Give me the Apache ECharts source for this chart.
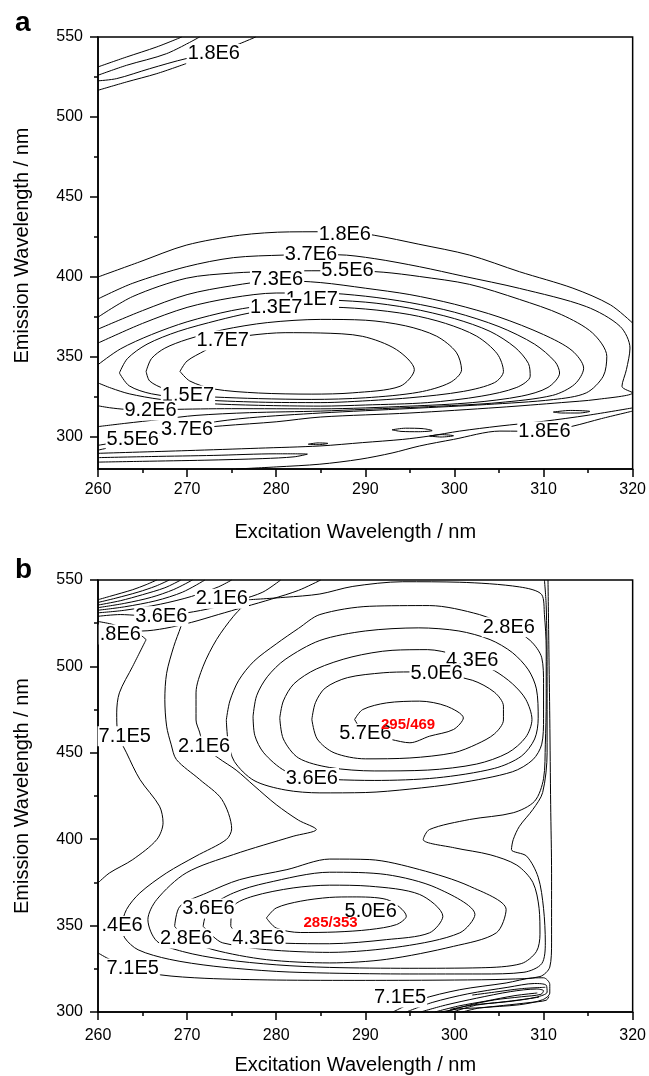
<!DOCTYPE html>
<html>
<head>
<meta charset="utf-8">
<title>EEM contour maps</title>
<script src="https://cdn.jsdelivr.net/npm/echarts@6.0.0/dist/echarts.min.js"></script>
<style>
  html, body { margin: 0; padding: 0; background: #fff; }
  #chart { width: 649px; height: 1076px; }
</style>
</head>
<body>
<div id="chart"></div>
<script>
// axis ticks
const xTicks = [260, 270, 280, 290, 300, 310, 320]
const aYTicks = [300, 350, 400, 450, 500, 550]
const aYMinorTicks = [325, 375, 425, 475, 525]

// ---- panel a: contour lines [excitation nm, emission nm] ----
const aLine18Top = [[260,400],[264.7,409.5],[269.9,419.9],[275.9,426.1],[281.5,428.2],[287.7,428.3],[291,426.1],[296,420.5],[301.7,413.7],[307.3,403.3],[313.3,393],[317.5,382.6],[320,371.2]]
const aLine18Bottom = [[275.5,280],[280,281.3],[284.9,283],[289.4,286.1],[293,290],[296.1,294.4],[299.9,298.5],[305.1,303.7],[310.1,303.5],[313.3,306.8],[316.5,311.5],[320,316.2]]
const aLine18Mid = [[260,289.8],[270,291.5],[278,293],[284.9,294.4],[289.7,296.5],[294.2,298.5],[297.2,300.6],[300.6,303.7],[305,306.8],[310,309.8],[315,313.6],[320,318.2]]
const aPocket = [[260,287.1],[266,287.8],[273,288.5],[280,289.5],[283.5,289.3],[282,287.6],[278.5,286.5],[272,285.5],[265,284.8],[260,284.3]]
const aLine37 = [[260,386.3],[263.9,396.1],[269.9,406.4],[275.2,412.1],[280.8,413.7],[284,413.9],[286.9,413.9],[291,411.5],[296.1,406.4],[301,400.5],[307.3,392.9],[314.8,381.5],[318.6,369.1],[319.7,355.6],[319.3,342.1],[318.8,331.7],[320,327.6],[316,323.5],[312,321.5],[305,318.5],[295,315],[285,312.5],[280,309.5],[274,307],[270,304.8],[267,301],[263,295.5],[260,291.8]]
const aLine55 = [[260,374.9],[263.9,387.8],[269.9,399.2],[275.2,402.5],[280,403.5],[284,403.9],[288,403.9],[292,403],[296.1,400.3],[301.7,395.4],[307.3,386],[312,376.5],[315.5,365],[317.1,350.4],[316.7,338],[314.8,327.6],[311.1,323.4],[303.6,320.3],[295,317.8],[285,315],[277,312],[272,308.5],[268,303.5],[263.9,298.5],[260,294.8]]
const aLine73 = [[260,367.4],[265,379],[270,389],[275,394.5],[280.1,397.8],[285,396.5],[290,393],[295,389],[300,383],[305,375],[310,364],[313.2,354],[314.5,343],[313.5,333],[311,326],[305,321.5],[298,319.2],[290,317.3],[285,316.2],[277,315.2],[271,313.5],[267,311],[263,308.5],[260,306.5]]
const aLine92 = [[260,358.7],[265,371],[270,381],[275,387],[280,390],[285,390],[290,388],[295,384],[300,378],[305,369],[309,358],[311.3,347],[311.8,340],[310.5,331],[307.5,325.5],[302,321.5],[295,319.3],[285,317.6],[275,317.7],[268,317.2],[265.9,316.6],[263,317.3],[261.3,318.3],[260,319.5]]
const aLine11 = [[260,345.2],[262.5,355],[266,364],[270,372],[275,379],[280,383.3],[284,385.8],[290,384.3],[295,380.5],[300,374],[304,366],[306.8,356],[308.3,346],[308.5,338],[307,331],[303,325.5],[297,321.5],[290,320],[285,319.3],[278,319.8],[272,321],[267,323.5],[263.5,327],[261.5,330.5],[260,333.8]]
const aLine13 = [[262.4,340],[263.3,349],[265.5,358],[269,366],[273.5,373],[277,377.5],[280,380],[285,381.3],[290,380],[295,376.5],[299,371],[302.5,363],[304.8,352],[305.5,341],[304.5,334],[301,328.5],[295,324.5],[288,322],[285,321.5],[278,321.8],[271,323.5],[266,327],[263.5,332],[262.4,340]]
const aLine15 = [[265.4,341],[266,349],[267.5,355.5],[270,361],[274,367],[279,371.5],[285,373.5],[290,373],[294.5,369.5],[298,363],[300.2,353],[300.8,342],[299.5,334],[296,328],[290,324.5],[284,323.5],[278,324],[273,325],[270.1,326],[267.5,330],[265.8,335],[265.4,341]]
const aLine17 = [[269.2,341],[270,347.5],[272,354],[274,360.3],[277,363.5],[281,365.2],[285,365],[289.7,362.9],[293.5,354.6],[295.5,342.1],[293.9,331.7],[288.6,327.6],[284,326.8],[278,327.5],[273,330],[270.3,335],[269.2,341]]
const aIsland1 = [[293,304.5],[294.5,305.5],[296.5,305.2],[297.5,304],[296,303.3],[294,303.5],[293,304.5]]
const aIsland2 = [[297.2,300.6],[298.5,301.5],[299.9,300.8],[298.5,300],[297.2,300.6]]
const aIsland3 = [[311.1,315.6],[313,316.6],[315.2,316],[314,315],[312,315],[311.1,315.6]]
const aIsland4 = [[283.6,295.5],[284.7,296.3],[285.8,296],[284.7,295.2],[283.6,295.5]]
const aScatter1 = [[260,531.3],[263.2,537.5],[266.6,543.8],[269.4,550]]
const aScatter2 = [[260,526.1],[263.2,532.3],[267.7,539.6],[271.4,550]]
const aScatter3 = [[260,522.6],[262.1,524],[265.8,530.2],[269.9,536.5],[273,539.4],[275.9,545.8],[277.7,550]]
const aScatter4 = [[260,516.7],[263.2,521.9],[266.6,527.1],[269.9,533.4]]

const aLabelText = ['1.8E6','1.8E6','3.7E6','5.5E6','7.3E6','1.1E7','1.3E7','1.7E7','1.5E7','9.2E6','5.5E6','3.7E6','1.8E6']
const aLabelX = [273.0, 287.7, 283.9, 288.0, 280.1, 284.0, 280.0, 274.0, 270.1, 265.9, 263.9, 270.0, 310.1]
const aLabelY = [539.4, 426.4, 413.9, 403.9, 398.3, 385.8, 380.9, 360.3, 326.0, 316.6, 298.5, 304.8, 303.5]

// ---- panel b: contour lines ----
const b71Up = [[265.4,515.5],[263.9,500.1],[262.4,484.7],[262.1,473.1],[262.2,461.6],[263.2,450],[264.7,434.6],[266.9,419.1],[267.3,409.5],[266.6,399.8],[263.9,388.2],[261.3,380.5],[260,374.7]]
const b71Low = [[260,334.2],[261.3,330.5],[263.9,325.2],[267,321.5],[272,319.5],[280,318.5],[290,318.3],[300,318.5],[306,319],[309.6,320.5],[310.7,326],[310.9,340],[310.9,380],[310.8,420],[310.7,470],[310.6,510],[310.5,550]]
const b14 = [[269.9,532.9],[269.3,523],[268.5,511.5],[267.7,496],[267.5,480.8],[267.7,465.4],[268.2,455],[268.8,446.1],[271.4,434.6],[273.9,423],[275,406],[274.4,399.8],[271,390.2],[267.7,380.5],[264.7,368.9],[263.2,359.3],[262.7,349.8],[263,342.9],[264.5,336],[268,330.5],[273,326.5],[280,323.5],[286,322.5],[295,322],[303,322],[307.8,323],[309.8,328],[310.2,340],[310,360],[309.4,378],[308.1,390.2],[306.4,394],[306.6,399.8],[307.3,407.5],[308.8,417.2],[309.9,427],[310.4,450],[310.4,500],[310.3,535],[310.1,550]]
const b21 = [[277,538.6],[275.2,529],[273.3,515.5],[271.8,500.1],[271,484.7],[271,469],[271.4,462],[271.9,453.8],[273.5,447],[275.5,440],[277.5,431],[280,420],[282.5,411],[284.5,405.6],[281.9,401.7],[275.2,391.1],[269.9,380.5],[266.6,365.1],[265.6,353.5],[266.6,341],[269.5,335],[274,330.5],[280,327.3],[286,325.8],[295,325.3],[303,325.6],[307.5,328],[309.2,335],[309.6,345],[309.5,360],[308.8,375],[307,385],[304,391],[300,395],[296.5,399.8],[297.2,405.6],[301.7,411.4],[306.6,415.3],[309,422],[310,435],[310.2,455],[310.3,480],[310.3,510],[310.1,530],[309.8,541.5],[307.3,546],[300.6,548.7],[294.2,549],[288.6,546.3],[284.9,541.9],[281,540],[277,538.6]]
const b28Up = [[274.4,469],[274.8,480],[275.8,492],[277.5,503],[280,513],[282.5,522],[284.9,530],[290.5,534.8],[297.2,535.2],[302.8,530],[306.1,522.7],[308.5,515],[309.8,505],[310,490],[310,470],[309.8,455],[308.8,446],[306.5,439],[300.5,432.5],[295,429],[290,427],[284.9,426.8],[281,428.5],[277.5,434],[275.3,445],[274.6,457],[274.4,469]]
const b36Up = [[277.4,471],[277.8,483],[279,494],[281,504],[284.9,515],[290,520.5],[296,522.3],[300.5,520.5],[304,515.5],[306.5,508],[308.3,498],[309.2,487],[309.4,470],[309,458],[307.5,448],[304.5,441],[298,435.5],[291,434],[286.5,434.5],[284,435.4],[281,439.5],[278.6,450],[277.6,460],[277.4,471]]
const b43Up = [[280.4,470.2],[280.8,480],[282,490],[284.5,498.5],[288.5,505.5],[293,509.3],[297,509.7],[300,507],[302,503.5],[304.5,497.5],[306.5,490],[308,481],[308.7,469.3],[308,459],[306,450],[302.5,443.5],[297,440],[291,439.5],[286,441.5],[282.5,447],[280.8,458],[280.4,470.2]]
const b50Up = [[284,469.3],[284.4,479],[285.5,487.5],[288,493.5],[292,496.3],[295,496.8],[298,495.7],[302,492],[304.5,485],[305.5,477],[305.5,469],[304.5,461],[302.5,455],[299.9,450],[295,447],[290,446.5],[286.5,450],[284.6,458],[284,469.3]]
const b57Up = [[288.8,469.3],[289.7,475],[292.4,478.9],[296.1,479.9],[299.1,477],[301,470.2],[299.9,463.5],[297.2,459.6],[295,455.8],[292.9,457.7],[290,461],[288.8,469.3]]
const b28Low = [[268.6,349.6],[269.2,361.2],[272.2,368.9],[275.9,376.6],[281.2,382.4],[286,388.5],[290.5,388.2],[296.1,382.4],[301.7,372.8],[305.8,359.3],[304.7,345.8],[299.9,338],[292.4,330.5],[286,328.4],[278.9,330.3],[272.9,336.1],[269.9,342.5],[268.6,349.6]]
const b36Low = [[271.8,349.6],[272.4,359.9],[275.2,368.9],[278.9,374.7],[286,380.9],[292.4,379.5],[298,371.8],[302.3,356.4],[300.6,345.8],[294.2,338],[286,334.5],[278.9,336.1],[274,340],[272.9,343.8],[271.8,349.6]]
const b43Low = [[274.9,349.6],[275.2,361.2],[277.4,367],[281.9,371.8],[286,373.4],[290.5,372.8],[296.1,368],[298.7,355.4],[297.2,345.8],[292.4,341.9],[286,339.5],[281,339.8],[278,342.5],[275.5,346],[274.9,349.6]]
const b50Low = [[278.9,354.4],[280,360.2],[282.7,364.1],[286,366.3],[288.6,366.6],[292.4,365.1],[294.6,355.4],[293.5,350.6],[290.5,347.7],[286.7,346.3],[282.7,346],[280,348.6],[278.9,354.4]]
// scatter band, upper left
const bBandTop1 = [[260,538.6],[261.3,540.5],[263.9,544.4],[265.4,547.3],[266.6,550]]
const bBandTop2 = [[260,537],[262,539.5],[264.5,543],[266.5,546.5],[268,550]]
const bBandTop3 = [[260,535.5],[262.5,538],[265,541.5],[267.5,545.5],[269.3,550]]
const bBandTop4 = [[260,534],[263,536.5],[266,540],[268.5,544.5],[270.6,550]]
const bBandTop5 = [[260,532.5],[263,534.5],[266.5,538],[269.5,543],[272,550]]
const bBandTop6 = [[260,531],[263,532.5],[267,536],[270.5,540.5],[273.5,546],[275,550]]
const bBandTop7 = [[260,529],[262.5,530],[264.5,529.5],[267,529],[270,531],[273,534],[276,538.5],[278.5,543],[280.5,550]]
const bBandTop8 = [[260,526],[261.5,524.5],[263,522],[265,520.5],[267.5,522],[270.5,525.5],[273.5,530],[276.5,534.5],[279.5,539],[282.5,544],[285,550]]
const bBandTop9 = [[260,513.5],[261.5,515.5],[262.6,518.4],[264.2,519.5],[265.4,515.5]]
// scatter band, lower right
const bBandLow1 = [[293.1,300],[296.1,307.1],[300.6,312.9],[305.8,316.8],[308.8,319.7],[310,319.8],[310.7,316],[310.7,311],[309.9,307.1],[307.3,304.2],[302.8,302.3],[300.9,300]]
const bBandLow2 = [[294.6,300],[297.5,305.5],[301.5,310.5],[306,314.3],[309,316.5],[310.3,315.5],[310.4,311.5],[309.2,308.6],[306.5,306.3],[302.5,304],[299.8,300]]
const bBandLow3 = [[296.2,300],[299,304],[302.5,308],[306.3,311.8],[309.2,313.3],[310,312.3],[309.7,310.2],[307.5,308.8],[304.5,307],[301.5,303.8],[299,300]]
const bBandLow4 = [[297.8,300],[300.5,303.5],[303.5,306.3],[306.8,309.5],[309.3,311]]
const bBandLow5 = [[299.5,301.5],[302,304],[304.5,305.3],[307,306.8],[309.5,308.6]]
const bBandLow6 = [[298.5,300],[300.5,301.8],[303,302.5],[305.5,303.8],[308.5,305.5],[310.3,306.8],[310.6,309]]
const bBandLow7 = [[302,309.8],[304.5,311.5],[307.5,313.5],[310.2,314.3]]

const bLabelText = ['2.1E6','3.6E6','.8E6','7.1E5','2.1E6','3.6E6','2.8E6','4.3E6','5.0E6','5.7E6','.4E6','3.6E6','2.8E6','4.3E6','7.1E5','5.0E6','7.1E5']
const bLabelX = [273.9, 267.1, 262.5, 263.0, 271.9, 284.0, 306.1, 302.0, 298.0, 290.0, 262.7, 272.4, 269.9, 278.0, 263.9, 290.6, 293.9]
const bLabelY = [539.1, 529.0, 518.4, 459.6, 453.8, 435.4, 522.7, 503.5, 495.7, 461.0, 349.8, 359.9, 342.5, 342.5, 325.2, 358.4, 308.4]

const bPeakText = ['295/469', '285/353']
const bPeakX = [294.8, 286.1]
const bPeakY = [466.4, 351.3]

const FONT = '"Liberation Sans", Arial, Helvetica, sans-serif'

const panelALines = [aLine18Top, aLine18Bottom, aLine18Mid, aPocket, aLine37, aLine55, aLine73, aLine92,
  aLine11, aLine13, aLine15, aLine17, aIsland1, aIsland2, aIsland3, aIsland4,
  aScatter1, aScatter2, aScatter3, aScatter4]
const panelBLines = [b71Up, b71Low, b14, b21, b28Up, b36Up, b43Up, b50Up, b57Up,
  b28Low, b36Low, b43Low, b50Low,
  bBandTop1, bBandTop2, bBandTop3, bBandTop4, bBandTop5, bBandTop6, bBandTop7, bBandTop8, bBandTop9,
  bBandLow1, bBandLow2, bBandLow3, bBandLow4, bBandLow5, bBandLow6, bBandLow7]

function lineSeries(pts, panel) {
  return {
    type: 'line',
    xAxisIndex: panel,
    yAxisIndex: panel,
    data: pts,
    symbol: 'none',
    smooth: 0.3,
    lineStyle: { color: '#000', width: 1 },
    silent: true,
    z: 2
  }
}

// text placed on the contour lines (white box breaks the line like the original)
function labelSeries(texts, xs, ys, panel, style) {
  return {
    type: 'scatter',
    xAxisIndex: panel,
    yAxisIndex: panel,
    data: texts.map((t, i) => ({ name: t, value: [xs[i], ys[i]] })),
    symbol: 'rect',
    symbolSize: 1,
    itemStyle: { color: 'rgba(0,0,0,0)', opacity: 1 },
    label: Object.assign({
      show: true,
      position: 'inside',
      formatter: '{b}',
      opacity: 1,
      fontFamily: FONT
    }, style),
    silent: true,
    z: 5
  }
}

const contourLabel = { color: '#000', fontSize: 20, backgroundColor: '#fff', padding: [0, 1] }
const peakLabel = { color: '#ff0000', fontSize: 15, fontWeight: 'bold' }

function xAxisOf(grid, margin, gap) {
  return {
    gridIndex: grid,
    type: 'value',
    min: 260,
    max: 320,
    interval: 10,
    axisLine: { show: true, onZero: false, lineStyle: { color: '#000', width: 1.5 } },
    axisTick: { show: true, length: 8, lineStyle: { color: '#000', width: 1.5 } },
    minorTick: { show: true, splitNumber: 2, length: 4, lineStyle: { color: '#000', width: 1.5 } },
    splitLine: { show: false },
    axisLabel: { fontSize: 16, color: '#000', margin: margin, fontFamily: FONT },
    name: 'Excitation Wavelength / nm',
    nameLocation: 'middle',
    nameGap: gap,
    nameTextStyle: { fontSize: 20, color: '#000', fontFamily: FONT, padding: [0, 20, 0, 0] }
  }
}

const yName = {
  name: 'Emission Wavelength / nm',
  nameLocation: 'middle',
  nameGap: 66
}

const chart = echarts.init(document.getElementById('chart'))

chart.setOption({
  animation: false,
  backgroundColor: '#fff',
  title: [
    { text: 'a', left: 15, top: 9, padding: 0, textStyle: { fontSize: 28, fontWeight: 'bold', color: '#000', fontFamily: FONT } },
    { text: 'b', left: 15, top: 556, padding: 0, textStyle: { fontSize: 28, fontWeight: 'bold', color: '#000', fontFamily: FONT } }
  ],
  grid: [
    { left: 98, top: 37, width: 535, height: 432, show: true, borderColor: '#000', borderWidth: 1.5 },
    { left: 98, top: 580, width: 535, height: 432, show: true, borderColor: '#000', borderWidth: 1.5 }
  ],
  xAxis: [xAxisOf(0, 13, 53), xAxisOf(1, 16, 43)],
  yAxis: [
    Object.assign({
      gridIndex: 0,
      type: 'value',
      position: 'left',
      min: 280,
      max: 550,
      axisLine: { show: true, onZero: false, lineStyle: { color: '#000', width: 1.5 } },
      axisTick: { show: true, length: 8, customValues: aYTicks, lineStyle: { color: '#000', width: 1.5 } },
      splitLine: { show: false },
      axisLabel: { fontSize: 16, color: '#000', margin: 15, fontFamily: FONT, customValues: aYTicks },
      nameTextStyle: { fontSize: 20, color: '#000', fontFamily: FONT, padding: [0, 0, 0, 15] }
    }, yName),
    Object.assign({
      gridIndex: 1,
      type: 'value',
      position: 'left',
      min: 300,
      max: 550,
      interval: 50,
      axisLine: { show: true, onZero: false, lineStyle: { color: '#000', width: 1.5 } },
      axisTick: { show: true, length: 8, lineStyle: { color: '#000', width: 1.5 } },
      minorTick: { show: true, splitNumber: 2, length: 4, lineStyle: { color: '#000', width: 1.5 } },
      splitLine: { show: false },
      axisLabel: { fontSize: 16, color: '#000', margin: 15, fontFamily: FONT },
      nameTextStyle: { fontSize: 20, color: '#000', fontFamily: FONT }
    }, yName),
    {
      // minor ticks of panel a
      gridIndex: 0,
      type: 'value',
      position: 'left',
      min: 280,
      max: 550,
      axisLine: { show: false },
      axisTick: { show: true, length: 4, customValues: aYMinorTicks, lineStyle: { color: '#000', width: 1.5 } },
      axisLabel: { show: false },
      splitLine: { show: false }
    }
  ],
  series: [
    ...panelALines.map((p) => lineSeries(p, 0)),
    ...panelBLines.map((p) => lineSeries(p, 1)),
    labelSeries(aLabelText, aLabelX, aLabelY, 0, contourLabel),
    labelSeries(bLabelText, bLabelX, bLabelY, 1, contourLabel),
    labelSeries(bPeakText, bPeakX, bPeakY, 1, peakLabel)
  ]
})
</script>
</body>
</html>
